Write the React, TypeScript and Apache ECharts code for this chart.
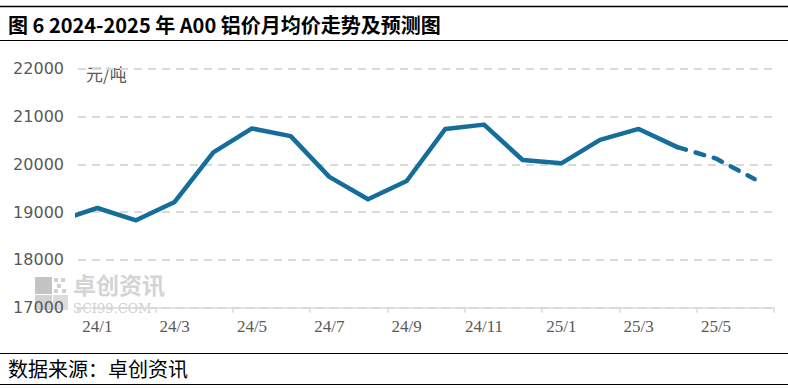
import React, { useEffect, useRef } from "react";
import * as echarts from "echarts";

const categories = ["23/12", "24/1", "24/2", "24/3", "24/4", "24/5", "24/6", "24/7", "24/8", "24/9", "24/10", "24/11", "24/12", "25/1", "25/2", "25/3", "25/4", "25/5", "25/6"];
const actualValues: (number | null)[] = [18822, 19086, 18828, 19212, 20250, 20750, 20589, 19736, 19270, 19650, 20740, 20830, 20090, 20020, 20510, 20740, 20360, null, null];
const forecastValues: (number | null)[] = [null, null, null, null, null, null, null, null, null, null, null, null, null, null, null, null, 20360, 20120, 19690];
const yTicks = { min: 17000, max: 22000, interval: 1000 };
const titleText = "图 6 2024-2025 年 A00 铝价月均价走势及预测图";
const sourceText = "数据来源：卓创资讯";
const unitText = "元/吨";

export default function App() {
  const ref = useRef<HTMLDivElement>(null);
  useEffect(() => {
    document.body.style.margin = "0";
    if (!ref.current) return;
    const chart = echarts.init(ref.current, undefined, { renderer: "svg" });
    const lineColor = "#156D9B";
    chart.setOption({
      animation: false,
      backgroundColor: "#ffffff",
      grid: { left: 78, right: 14, top: 68.7, bottom: 80.3, containLabel: false },
      xAxis: {
        type: "category",
        data: categories,
        min: 1,
        max: 18,
        boundaryGap: true,
        axisLine: { show: true, lineStyle: { color: "#D9D9D9", width: 1.5 } },
        axisTick: {
          show: true,
          interval: (i: number) => i % 2 === 1,
          length: 5,
          lineStyle: { color: "#D9D9D9", width: 1.5 },
        },
        axisLabel: {
          interval: (i: number) => i % 2 === 1,
          color: "#595959",
          fontSize: 17,
          fontFamily: "Liberation Serif",
          margin: 10,
        },
        splitLine: { show: false },
      },
      yAxis: {
        type: "value",
        min: yTicks.min,
        max: yTicks.max,
        interval: yTicks.interval,
        axisLine: { show: false },
        axisTick: { show: false },
        axisLabel: {
          color: "#595959",
          fontSize: 16,
          fontFamily: "DejaVu Sans",
          margin: 14,
          formatter: (v: number) => String(v),
        },
        splitLine: { show: true, lineStyle: { color: "#D9D9D9", width: 2, type: [8, 6] } },
      },
      series: [
        {
          type: "line",
          data: actualValues,
          showSymbol: false,
          symbol: "none",
          connectNulls: false,
          clip: true,
          lineStyle: { color: lineColor, width: 4.5, cap: "round", join: "round" },
          z: 3,
        },
        {
          type: "line",
          data: forecastValues,
          showSymbol: false,
          symbol: "none",
          clip: true,
          lineStyle: { color: lineColor, width: 4.5, type: [9, 10], cap: "round", join: "round" },
          z: 3,
        },
      ],
      graphic: [
        { type: "line", shape: { x1: 0, y1: 6.5, x2: 788, y2: 6.5 }, style: { stroke: "#000", lineWidth: 1.5 } },
        { type: "line", shape: { x1: 0, y1: 40.5, x2: 788, y2: 40.5 }, style: { stroke: "#000", lineWidth: 1 } },
        {
          type: "text",
          x: 8,
          y: 24,
          style: { text: titleText, fontSize: 20, fontWeight: "bold", fontFamily: "Noto Sans CJK SC", fill: "#000", textVerticalAlign: "middle" },
        },
        {
          type: "text",
          x: 86,
          y: 73,
          style: { text: unitText, fontSize: 17, fontFamily: "Noto Sans CJK SC", fill: "#595959", textVerticalAlign: "middle" },
        },
        { type: "line", shape: { x1: 0, y1: 353.5, x2: 788, y2: 353.5 }, style: { stroke: "#000", lineWidth: 1 } },
        { type: "line", shape: { x1: 0, y1: 384.5, x2: 788, y2: 384.5 }, style: { stroke: "#000", lineWidth: 1 } },
        {
          type: "text",
          x: 8,
          y: 368,
          style: { text: sourceText, fontSize: 20, fontFamily: "Noto Sans CJK SC", fill: "#000", textVerticalAlign: "middle" },
        },
        {
          type: "group",
          z: 1,
          silent: true,
          children: [
            { type: "rect", shape: { x: 35, y: 277, width: 17, height: 17 }, style: { fill: "#C4C4C4" } },
            { type: "rect", shape: { x: 35, y: 295, width: 17, height: 15 }, style: { fill: "#D2D2D2" } },
            { type: "rect", shape: { x: 53, y: 295, width: 15, height: 15 }, style: { fill: "#DCDCDC" } },
            { type: "rect", shape: { x: 54, y: 278, width: 4, height: 4 }, style: { fill: "#D0D0D0" } },
            { type: "rect", shape: { x: 61, y: 278, width: 4, height: 4 }, style: { fill: "#D0D0D0" } },
            { type: "rect", shape: { x: 57, y: 284, width: 4, height: 4 }, style: { fill: "#D0D0D0" } },
            { type: "rect", shape: { x: 54, y: 289, width: 4, height: 4 }, style: { fill: "#D0D0D0" } },
            { type: "rect", shape: { x: 62, y: 289, width: 4, height: 4 }, style: { fill: "#D0D0D0" } },
            {
              type: "text",
              x: 73,
              y: 284,
              style: { text: "卓创资讯", fontSize: 23, fontWeight: "bold", fontFamily: "Noto Sans CJK SC", fill: "#D4D4D4", textVerticalAlign: "middle" },
            },
            {
              type: "text",
              x: 73,
              y: 308,
              style: { text: "SCI99.COM", fontSize: 13, fontFamily: "DejaVu Serif", fill: "#D0D0D0", textVerticalAlign: "middle" },
            },
          ],
        },
      ],
    });
    return () => chart.dispose();
  }, []);
  return <div ref={ref} style={{ width: 788, height: 388 }} />;
}
